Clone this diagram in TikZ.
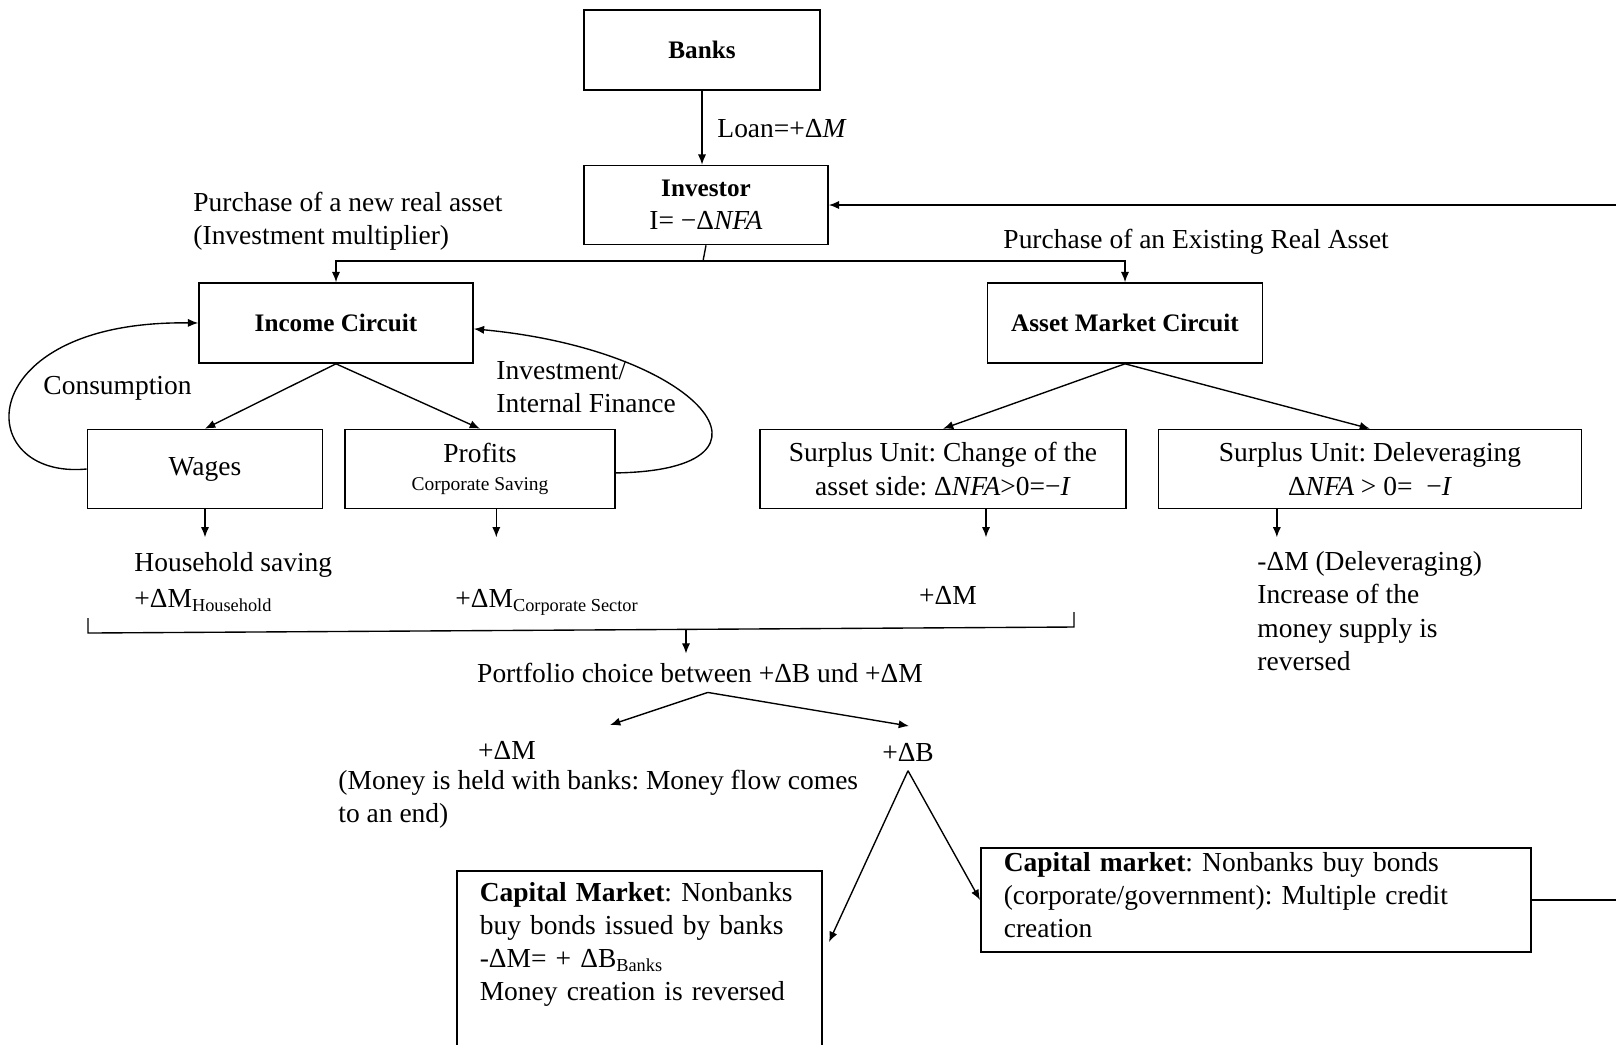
\documentclass[tikz,border=0pt,12pt]{standalone}
\usepackage{fontspec}
\setmainfont{Liberation Serif}
\usetikzlibrary{arrows.meta}
\def\pxu{0.01535cm}
\frenchspacing

\begin{document}
\begin{tikzpicture}[
    x=\pxu, y=-\pxu,
    box/.style={draw=black, rectangle, line width=0.7pt, align=center, inner sep=0pt},
    arrow/.style={-{Latex[length=4.5pt,width=3.6pt]}, line width=0.6pt},
    line/.style={line width=0.6pt},
    head/.style={font=\fontsize{11}{13}\selectfont\bfseries},
    txt/.style={align=left, inner sep=0pt, anchor=west}
]
\clip (0,0) rectangle (1616,1044);

% top: banks and investor
\node[box, head, minimum width=236*\pxu, minimum height=80*\pxu] (banks) at (702,50) {Banks};
\node[box, minimum width=244*\pxu, minimum height=79*\pxu] (investor) at (706,205)
    {{\fontsize{11}{13}\selectfont\bfseries Investor}\\[0pt]I= −Δ\textit{NFA}};
\draw[arrow] (banks.south) -- (banks.south |- investor.north);
\node[txt] (loan) at (717,129) {Loan=+Δ\textit{M}};

\coordinate (split) at (703,261);
\node[txt] (newasset) at (193,221) {Purchase of a new real asset\\(Investment multiplier)};
\node[txt] (oldasset) at (1003,242) {Purchase of an Existing Real Asset};

% circuits
\node[box, head, minimum width=274*\pxu, minimum height=80*\pxu] (income) at (336,323) {Income Circuit};
\node[box, head, minimum width=275*\pxu, minimum height=80*\pxu] (asset) at (1125,323) {Asset Market Circuit};
\draw[line] (investor.south) -- (split);
\draw[arrow] (split) -| (income.north);
\draw[arrow] (split) -| (asset.north);

\node[box, minimum width=235*\pxu, minimum height=79*\pxu] (wages) at (205,469) {\raisebox{-3pt}{Wages}};
\node[box, minimum width=270*\pxu, minimum height=79*\pxu] (profits) at (480,469)
    {Profits\\[-2pt]{\fontsize{8.5}{10}\selectfont Corporate Saving}};
\node[box, minimum width=366*\pxu, minimum height=79*\pxu] (surplus1) at (943,469)
    {Surplus Unit: Change of the\\asset side: Δ\textit{NFA}>0=−\textit{I}};
\node[box, minimum width=423*\pxu, minimum height=79*\pxu] (surplus2) at (1370,469)
    {Surplus Unit: Deleveraging\\Δ\textit{NFA} > 0=\ \ −\textit{I}};

\draw[arrow] (income.south) -- (wages.north);
\draw[arrow] (income.south) -- (profits.north);
\draw[arrow] (asset.south) -- (surplus1.north);
\draw[arrow] (asset.south) -- (surplus2.north);

% loops
\draw[arrow] (wages.west) .. controls (-30,480) and (-30,320) .. (income.west);
\draw[arrow] ([yshift=-0.06cm]profits.east) .. controls (800,470) and (700,350) .. ([yshift=-0.09cm]income.east);
\node[txt] (cons) at (43,388) {Consumption};
\node[txt] (invfin) at (496,387) {Investment/\\Internal Finance};

% savings
\draw[arrow] (wages.south) -- ++(0,28);
\draw[arrow] ([xshift=0.25cm]profits.south) -- ++(0,28);
\draw[arrow] ([xshift=0.66cm]surplus1.south) -- ++(0,28);
\draw[arrow] ([xshift=-1.43cm]surplus2.south) -- ++(0,28);

\node[txt] (hhsave) at (134,582) {Household saving\\[1pt]+ΔM\textsubscript{Household}};
\node[txt, anchor=base west] (corpsave) at (455,607) {+ΔM\textsubscript{Corporate Sector}};
\node[txt, anchor=base] (surpm) at (948,604) {+ΔM};
\node[txt] (delev) at (1257,611) {-ΔM (Deleveraging)\\Increase of the\\money supply is\\reversed};

% bracket
\coordinate (brl) at (88,618);
\coordinate (brr) at (1074,612);
\coordinate (brk) at (686,630);
\draw[line] (brl) -- (88,633) -- (1074,627) -- (brr);
\node (portfolio) at (700,673) {Portfolio choice between +ΔB und +ΔM};
\draw[arrow] (brk) -- (brk |- portfolio.north);

% portfolio choice
\coordinate (tipm) at (610,725);
\coordinate (tipb) at (909,726);
\draw[arrow] ([xshift=0.12cm]portfolio.south) -- (tipm);
\draw[arrow] ([xshift=0.12cm]portfolio.south) -- (tipb);
\node (dm) at (507,750) {+ΔM};
\node[txt] (held) at (338,799) {(Money is held with banks: Money flow comes\\to an end)};
\node (db) at (908,752) {+ΔB};

% capital market
\node[box, anchor=north west, align=left, text width=319*\pxu, inner xsep=23*\pxu, inner ysep=5pt, text depth=4cm] (cmleft) at (456,870)
    {\textbf{Capital Market}: Nonbanks\\buy bonds issued by banks\\-ΔM= + ΔB\textsubscript{Banks}\\Money creation is reversed};
\node[box, anchor=north west, align=left, text width=504*\pxu, inner xsep=23*\pxu, inner ysep=1.8pt, text depth=33.6pt] (cmright) at (980,847)
    {\textbf{Capital market}: Nonbanks buy bonds\\(corporate/government): Multiple credit\\creation};
\coordinate (cmlefttip) at (829,942);
\draw[arrow] (db.south) -- (cmlefttip);
\draw[arrow] (db.south) -- (cmright.west);
\draw[arrow] (cmright.east) -- ++(120,0) |- (investor.east);
\end{tikzpicture}
\end{document}
